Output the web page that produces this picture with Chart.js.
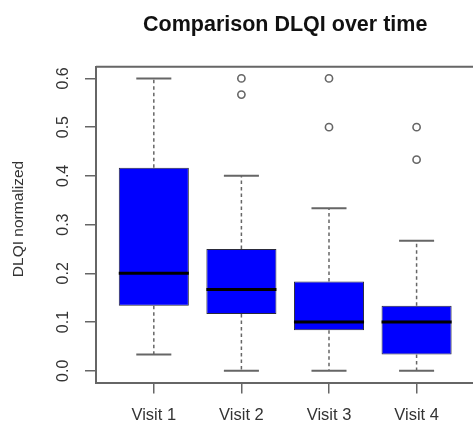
<!DOCTYPE html>
<html>
<head>
<meta charset="utf-8">
<script src="https://cdn.jsdelivr.net/npm/chart.js@4.4.1/dist/chart.umd.min.js"></script>
<style>
    html, body { margin: 0; padding: 0; background: #ffffff; overflow: hidden; }
    #wrap { width: 473px; height: 426px; overflow: hidden; }
</style>
</head>
<body>
<div id="wrap">
    <canvas id="myChart" width="480" height="426"></canvas>
</div>
<script>
// Boxplot statistics (DLQI normalized)
const categories = ['Visit 1', 'Visit 2', 'Visit 3', 'Visit 4'];
const lowerWhisker = [0.0333, 0, 0, 0];
const q1 = [0.1333, 0.1167, 0.0833, 0.0333];
const median = [0.2, 0.1667, 0.1, 0.1];
const q3 = [0.4167, 0.25, 0.1833, 0.1333];
const upperWhisker = [0.6, 0.4, 0.3333, 0.2667];
const outliers = [[], [0.5667, 0.6], [0.5, 0.6], [0.4333, 0.5]];

// Axis ticks
const yTicks = [0, 0.1, 0.2, 0.3, 0.4, 0.5, 0.6];
const yTickLabels = ['0.0', '0.1', '0.2', '0.3', '0.4', '0.5', '0.6'];

const chartTitle = 'Comparison DLQI over time';
const yAxisTitle = 'DLQI normalized';

const axisColor = '#666666';
const textColor = '#333333';
const fontFamily = "'Liberation Sans', Arial, sans-serif";

// Boxes are floating bars from Q1 to Q3
const boxData = categories.map((c, i) => ({ x: i + 1, y: [q1[i], q3[i]] }));

// Outliers as scatter points
const outlierData = [];
outliers.forEach((list, i) => {
    list.forEach(v => outlierData.push({ x: i + 1, y: v }));
});

// Draws whiskers, staples, medians, frame, title and rotated y labels
const boxplotExtras = {
    id: 'boxplotExtras',
    afterDatasetsDraw(chart) {
        const ctx = chart.ctx;
        const xs = chart.scales.x;
        const ys = chart.scales.y;
        const area = chart.chartArea;
        const bar = chart.getDatasetMeta(0).data[0];
        const boxWidth = bar.width;
        const staple = boxWidth / 4;

        ctx.save();
        categories.forEach((c, i) => {
            const cx = xs.getPixelForValue(i + 1);
            const yLow = ys.getPixelForValue(lowerWhisker[i]);
            const yQ1 = ys.getPixelForValue(q1[i]);
            const yQ3 = ys.getPixelForValue(q3[i]);
            const yUp = ys.getPixelForValue(upperWhisker[i]);

            // dashed whiskers
            ctx.strokeStyle = '#666666';
            ctx.lineWidth = 1.5;
            ctx.setLineDash([3.5, 3]);
            ctx.beginPath();
            ctx.moveTo(cx, yQ1);
            ctx.lineTo(cx, yLow);
            ctx.moveTo(cx, yQ3);
            ctx.lineTo(cx, yUp);
            ctx.stroke();

            // staples
            ctx.setLineDash([]);
            ctx.lineWidth = 2;
            ctx.beginPath();
            ctx.moveTo(cx - staple, yLow);
            ctx.lineTo(cx + staple, yLow);
            ctx.moveTo(cx - staple, yUp);
            ctx.lineTo(cx + staple, yUp);
            ctx.stroke();

            // median
            const yMed = ys.getPixelForValue(median[i]);
            ctx.strokeStyle = '#000000';
            ctx.lineWidth = 3;
            ctx.beginPath();
            ctx.moveTo(cx - boxWidth / 2, yMed);
            ctx.lineTo(cx + boxWidth / 2, yMed);
            ctx.stroke();
        });

        // top and right part of the frame
        ctx.strokeStyle = axisColor;
        ctx.lineWidth = 2;
        ctx.beginPath();
        ctx.moveTo(area.left, area.top);
        ctx.lineTo(area.right, area.top);
        ctx.lineTo(area.right, area.bottom);
        ctx.stroke();

        // y tick labels, rotated like R does
        ctx.fillStyle = textColor;
        ctx.font = '16px ' + fontFamily;
        ctx.textAlign = 'center';
        ctx.textBaseline = 'middle';
        yTicks.forEach((v, i) => {
            ctx.save();
            ctx.translate(64, ys.getPixelForValue(v));
            ctx.rotate(-Math.PI / 2);
            ctx.fillText(yTickLabels[i], 0, 0);
            ctx.restore();
        });

        // y axis title
        ctx.save();
        ctx.font = '15.5px ' + fontFamily;
        ctx.translate(19, 219);
        ctx.rotate(-Math.PI / 2);
        ctx.fillText(yAxisTitle, 0, 0);
        ctx.restore();

        // main title
        ctx.fillStyle = '#111111';
        ctx.font = 'bold 21.5px ' + fontFamily;
        ctx.textBaseline = 'alphabetic';
        ctx.fillText(chartTitle, (area.left + area.right) / 2, 31);

        ctx.restore();
    }
};

const ctx = document.getElementById('myChart').getContext('2d');
const myChart = new Chart(ctx, {
    type: 'bar',
    data: {
        datasets: [{
            type: 'bar',
            data: boxData,
            backgroundColor: '#0000ff',
            borderColor: '#2a2a3a',
            borderWidth: 1,
            borderSkipped: false,
            barPercentage: 0.8,
            categoryPercentage: 1
        }, {
            type: 'scatter',
            data: outlierData,
            pointRadius: 3.6,
            pointBorderWidth: 1.6,
            pointBorderColor: '#666666',
            pointBackgroundColor: 'rgba(0,0,0,0)'
        }]
    },
    options: {
        responsive: false,
        animation: false,
        layout: {
            padding: { top: 66.7, right: 4.3, left: 0, bottom: 0 }
        },
        plugins: {
            legend: { display: false },
            tooltip: { enabled: false },
            title: { display: false }
        },
        scales: {
            x: {
                type: 'linear',
                min: 0.34,
                max: 4.66,
                offset: false,
                afterBuildTicks: scale => {
                    scale.ticks = categories.map((c, i) => ({ value: i + 1 }));
                },
                afterFit: scale => { scale.height = 43.5; },
                ticks: {
                    autoSkip: false,
                    maxRotation: 0,
                    padding: 12,
                    color: textColor,
                    font: { family: fontFamily, size: 16.5 },
                    callback: (value, index) => categories[index]
                },
                grid: {
                    offset: false,
                    drawOnChartArea: false,
                    drawTicks: true,
                    tickLength: 11,
                    color: axisColor,
                    lineWidth: 1.5
                },
                border: { display: true, color: axisColor, width: 2 }
            },
            y: {
                type: 'linear',
                min: -0.024,
                max: 0.624,
                afterBuildTicks: scale => {
                    scale.ticks = yTicks.map(v => ({ value: v }));
                },
                afterFit: scale => { scale.width = 96; },
                ticks: { display: false },
                grid: {
                    drawOnChartArea: false,
                    drawTicks: true,
                    tickLength: 11,
                    color: axisColor,
                    lineWidth: 1.5
                },
                border: { display: true, color: axisColor, width: 2 }
            }
        }
    },
    plugins: [boxplotExtras]
});
</script>
</body>
</html>
